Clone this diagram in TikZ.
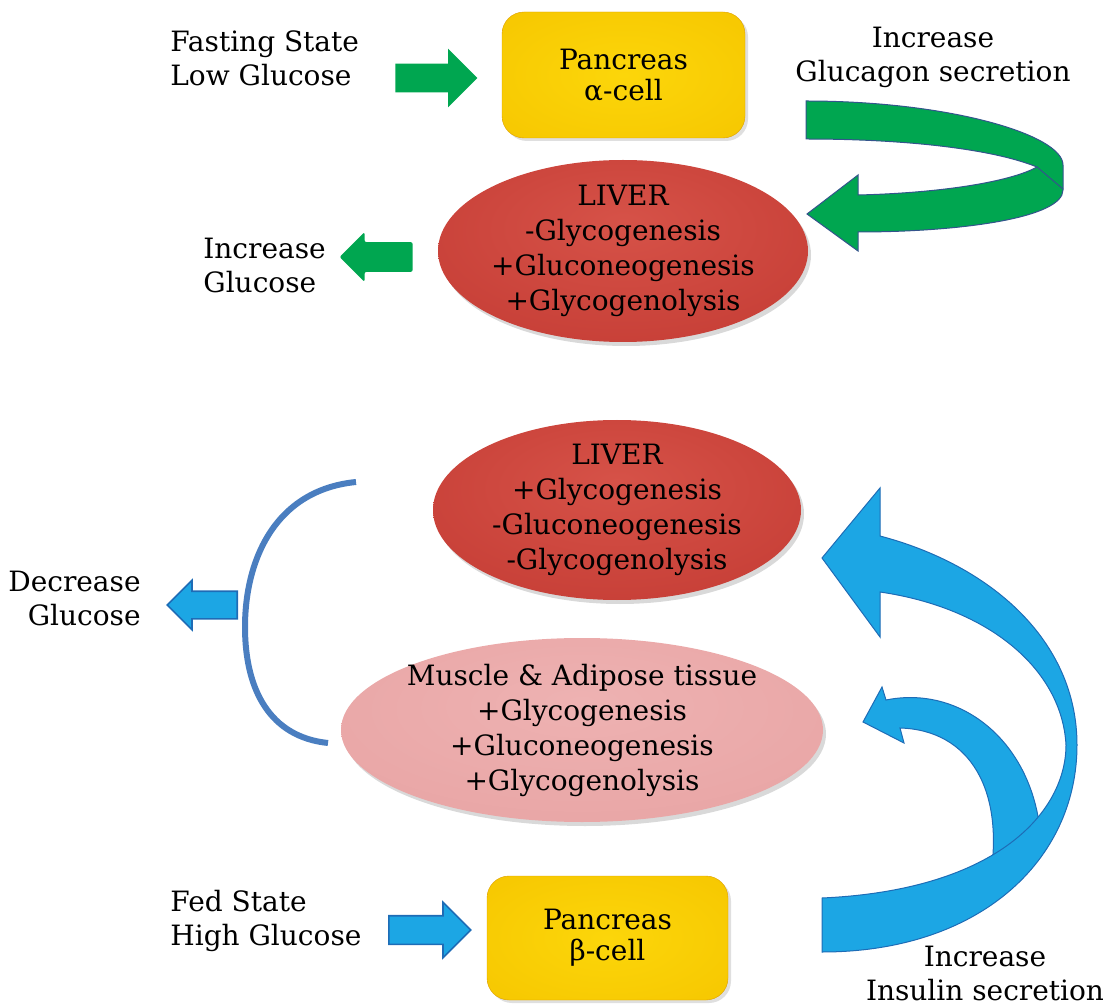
\documentclass[tikz,border=0pt]{standalone}
\usepackage{fontspec}
\setmainfont{DejaVu Serif}
\usetikzlibrary{%
        shapes.arrows,
        shapes.geometric,
        shadows
    }
\definecolor{goldlight}{RGB}{252, 214, 10}
\definecolor{goldmid}{RGB}{246, 198, 0}
\definecolor{golddark}{RGB}{222, 160, 0}
\definecolor{liverlight}{RGB}{214, 82, 72}
\definecolor{liverred}{RGB}{198, 62, 54}
\definecolor{liverdark}{RGB}{150, 36, 32}
\definecolor{musclelight}{RGB}{238, 178, 178}
\definecolor{musclepink}{RGB}{232, 164, 164}
\definecolor{muscledark}{RGB}{204, 124, 126}
\definecolor{leafgreen}{RGB}{0, 166, 80}
\definecolor{ribbonedge}{RGB}{52, 84, 140}
\definecolor{skyblue}{RGB}{28, 166, 228}
\definecolor{skyedge}{RGB}{30, 108, 182}
\definecolor{arcblue}{RGB}{74, 126, 192}

\pgfdeclareradialshading{goldglow}{\pgfpoint{0bp}{0bp}}{%
    color(0bp)=(goldlight); color(38bp)=(goldmid);
    color(52bp)=(golddark); color(70bp)=(golddark)}
\pgfdeclareradialshading{liverball}{\pgfpoint{0bp}{8bp}}{%
    color(0bp)=(liverlight); color(34bp)=(liverred);
    color(50bp)=(liverdark); color(70bp)=(liverdark)}
\pgfdeclareradialshading{muscleball}{\pgfpoint{0bp}{8bp}}{%
    color(0bp)=(musclelight); color(36bp)=(musclepink);
    color(50bp)=(muscledark); color(70bp)=(muscledark)}

\tikzset{
    caption/.style={inner sep=0pt, font=\fontsize{14}{17}\selectfont},
    pancreas/.style={
        rectangle, rounded corners=11pt, shading=goldglow,
        draw=golddark, very thin, align=center,
        drop shadow={opacity=0.25, shadow xshift=1.5pt, shadow yshift=-1.5pt},
        font=\fontsize{14}{15.5}\selectfont
    },
    organ/.style={
        ellipse, inner sep=-30pt, align=center,
        drop shadow={opacity=0.3, shadow xshift=1.5pt, shadow yshift=-2pt},
        font=\fontsize{14}{17.5}\selectfont
    },
    fatarrow/.style n args={3}{%
        single arrow, inner xsep=0pt, inner ysep=#1, anchor=tail,
        single arrow head extend=#2, minimum height=#3
    }
}

\begin{document}
\begin{tikzpicture}[x=0.5pt, y=-0.5pt]

    \useasboundingbox (0, 0) rectangle (1114, 1005);

    % fasting state
    \node[caption, anchor=west, align=left] (fasting) at (170, 58)
        {Fasting State\\Low Glucose};
    \node[fatarrow={7pt}{7.5pt}{41pt}, fill=leafgreen] (gArrowIn) at (395, 78) {};
    \node[pancreas, minimum width=121.5pt, minimum height=63pt] (pancAlpha)
        at (623.5, 75) {Pancreas\\α-cell};
    \node[caption, align=center] (glucagon) at (933, 57)
        {Increase\\Glucagon secretion};

    \fill[leafgreen, draw=ribbonedge, line width=0.5pt]
        (806, 101) .. controls (950, 101) and (1063, 135) .. (1063, 165) --
        (1063, 190) .. controls (1063, 218) and (960, 232) .. (858, 232) --
        (858, 251) -- (807, 214) -- (858, 175) --
        (858, 195) .. controls (940, 193) and (1010, 182) .. (1037, 167)
        .. controls (990, 148) and (900, 139) .. (806, 139) -- cycle;
    \draw[ribbonedge, line width=0.5pt] (1037, 167) -- (1063, 189);

    \node[organ, shading=liverball, minimum width=185pt, minimum height=91pt]
        (liverFast) at (623, 251)
        {LIVER\\-Glycogenesis\\+Gluconeogenesis\\+Glycogenolysis};
    \node[fatarrow={7.25pt}{5pt}{36.5pt}, shape border rotate=180,
        fill=leafgreen, rounded corners=1pt] (gArrowOut) at (413, 257) {};
    \node[caption, anchor=west, align=left] (incGlucose) at (203, 265)
        {Increase\\Glucose};

    % fed state
    \node[organ, shading=liverball, minimum width=184pt, minimum height=90pt]
        (liverFed) at (617, 510)
        {LIVER\\+Glycogenesis\\-Gluconeogenesis\\-Glycogenolysis};
    \node[organ, shading=muscleball, minimum width=241pt, minimum height=92pt]
        (muscle) at (582, 730)
        {Muscle \& Adipose tissue\\+Glycogenesis\\+Gluconeogenesis\\+Glycogenolysis};

    \draw[arcblue, line width=3pt]
        (356, 482) .. controls (275, 490) and (245, 560) .. (245, 627)
        .. controls (245, 690) and (270, 737) .. (328, 743);
    \node[fatarrow={6.5pt}{5.5pt}{35pt}, shape border rotate=180,
        fill=skyblue, draw=skyedge, line width=0.8pt] (bArrowOut) at (238, 605) {};
    \node[caption, anchor=east, align=right] (decGlucose) at (141, 598)
        {Decrease\\Glucose};

    \node[caption, anchor=west, align=left] (fed) at (170, 921)
        {Fed State\\High Glucose};
    \node[fatarrow={6.75pt}{6.75pt}{41pt}, fill=skyblue, draw=skyedge,
        line width=0.8pt] (bArrowIn) at (388, 930) {};
    \node[pancreas, minimum width=120.5pt, minimum height=62pt] (pancBeta)
        at (607.5, 938) {Pancreas\\β-cell};
    \node[caption, align=center] (insulin) at (985, 973)
        {Increase\\Insulin secretion};

    \filldraw[fill=skyblue, draw=skyedge, line width=0.5pt]
        (886, 700) .. controls (960, 685) and (1030, 740) .. (1040, 830) --
        (990, 880) .. controls (1005, 790) and (970, 730) .. (900, 728) --
        (904, 743) -- (863, 722) -- (882, 687) -- cycle;

    \filldraw[fill=skyblue, draw=skyedge, line width=0.5pt]
        (822, 952) .. controls (980, 952) and (1077, 860) .. (1077, 745)
        .. controls (1077, 640) and (990, 565) .. (880, 536) --
        (880, 488) -- (822, 558) -- (880, 637) --
        (880, 592) .. controls (990, 608) and (1062, 670) .. (1066, 745)
        .. controls (1066, 810) and (1000, 890) .. (822, 898) -- cycle;

\end{tikzpicture}
\end{document}
